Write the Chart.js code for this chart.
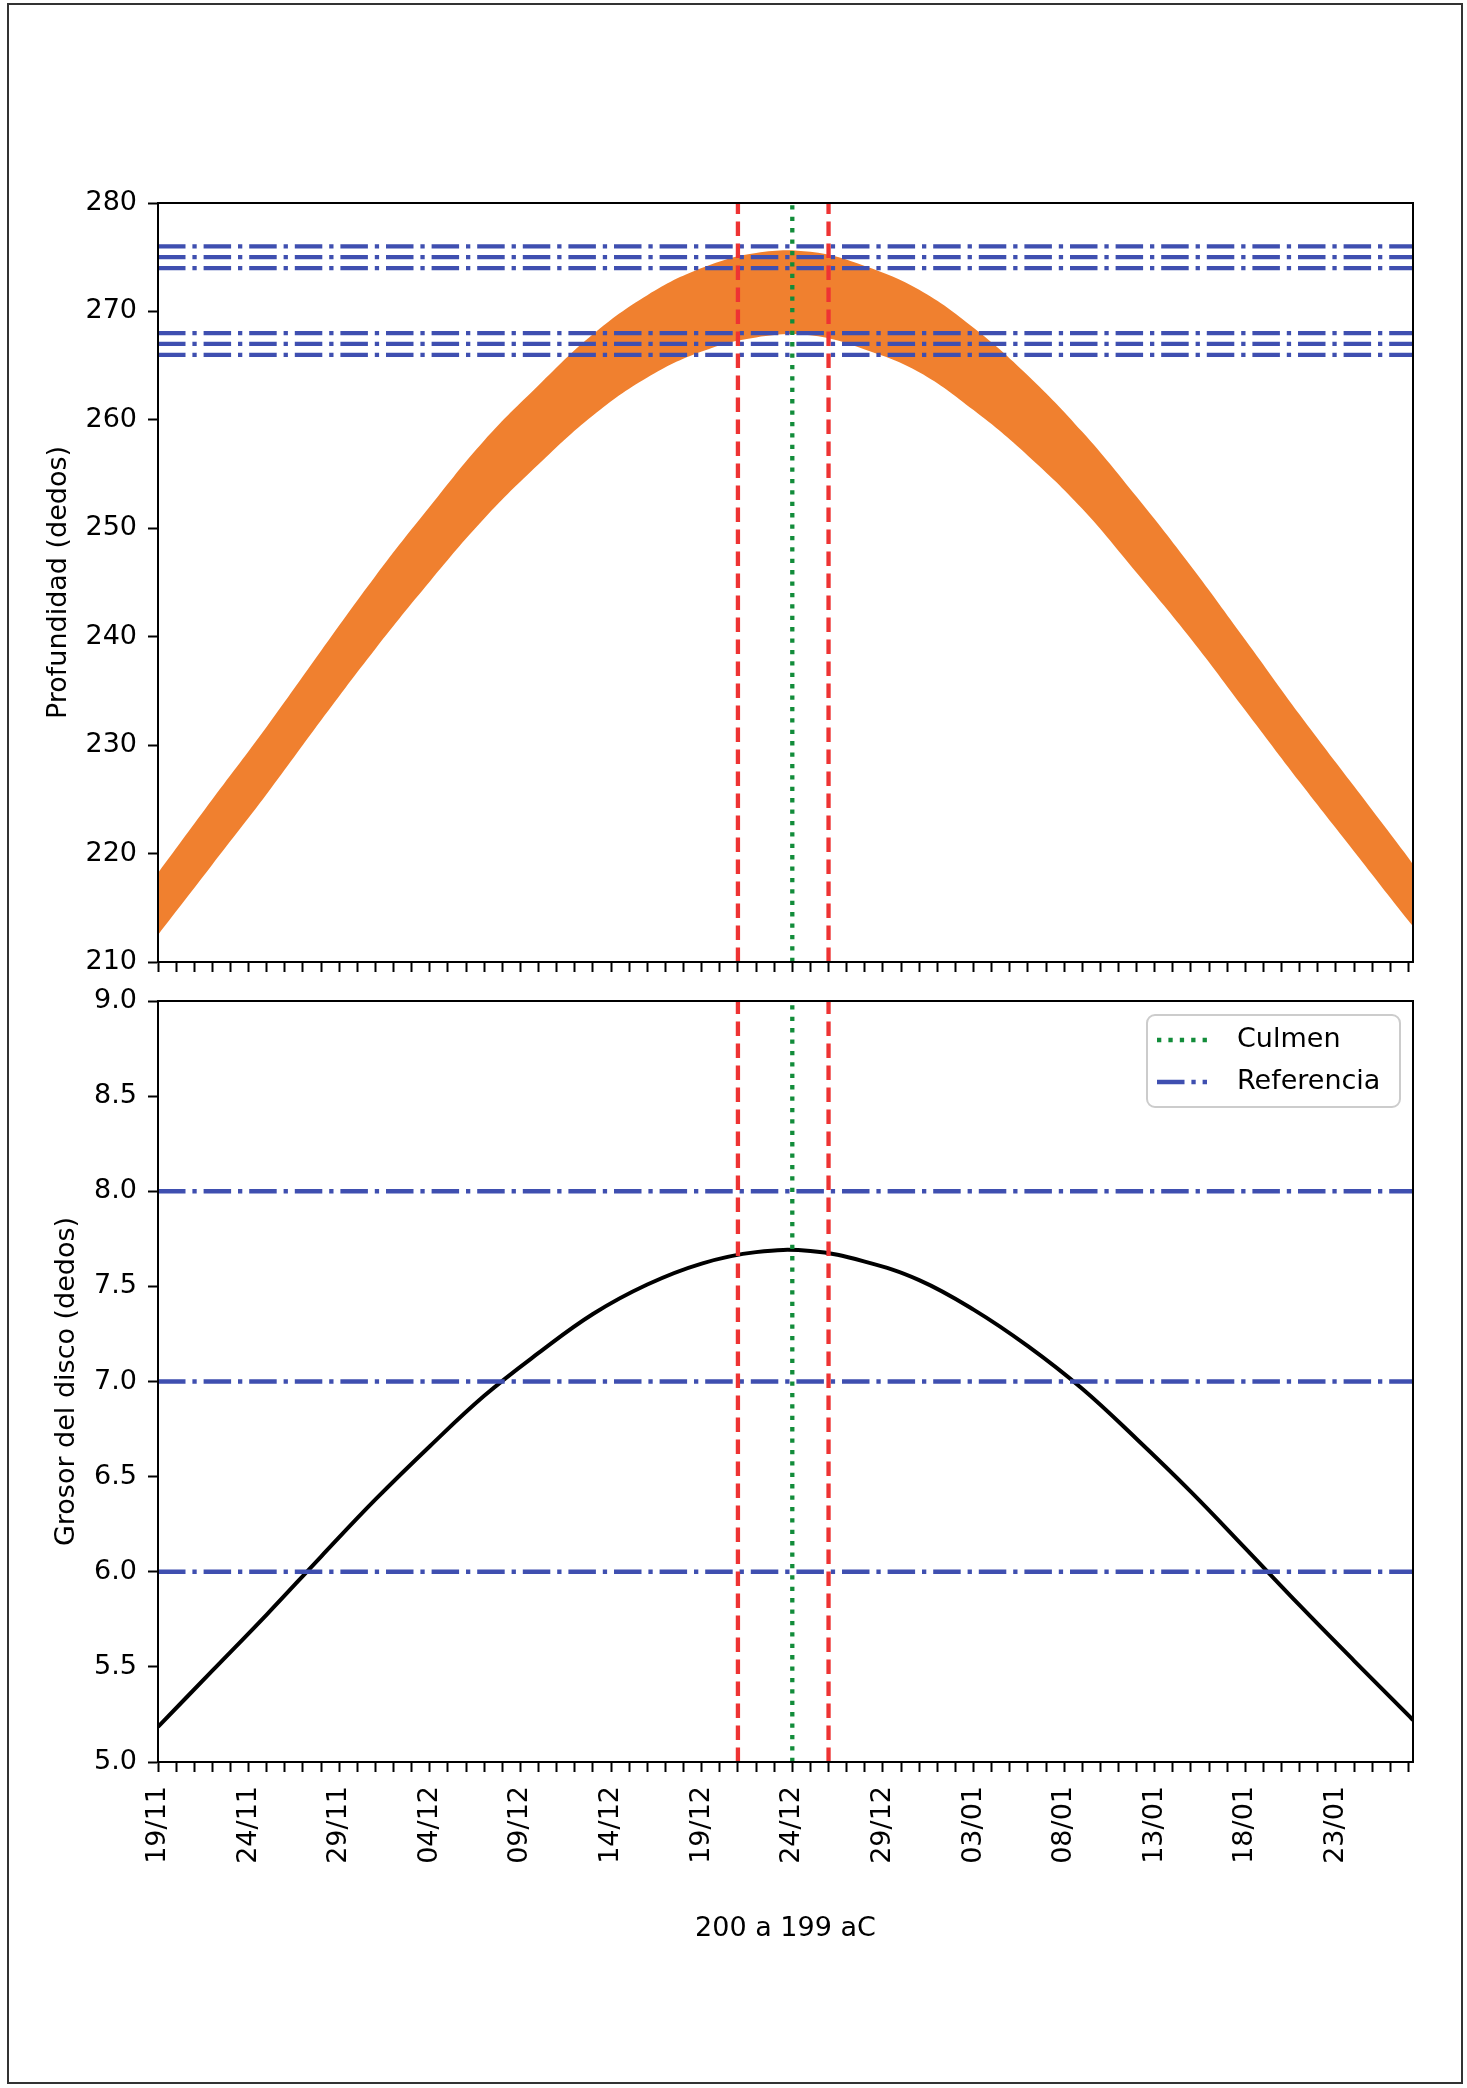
<!DOCTYPE html>
<html>
<head>
<meta charset="utf-8">
<script src="https://cdn.jsdelivr.net/npm/chart.js@4.4.1/dist/chart.umd.min.js"></script>
<style>
  html, body { margin: 0; padding: 0; background: #fff; }
  body { width: 1467px; height: 2088px; position: relative; overflow: hidden; }
  #frame { position: absolute; left: 7px; top: 3px; width: 1456px; height: 2081px; border: 2px solid #333; box-sizing: border-box; }
  canvas { position: absolute; left: 0; }
  #top { top: 0; }
  #bottom { top: 978px; }
</style>
</head>
<body>
<div id="frame"></div>
<canvas id="top" width="1467" height="978"></canvas>
<canvas id="bottom" width="1467" height="1110"></canvas>
<script>
// days counted from 19/11
const days = [0, 3, 6, 9, 12, 15, 18, 21, 24, 27, 30, 33, 36, 39, 42, 45, 48, 51, 54, 57, 60, 63, 66, 69, 69.25];
const grosor = [5.185, 5.48, 5.775, 6.08, 6.38, 6.66, 6.925, 7.15, 7.355, 7.51, 7.62, 7.68, 7.686, 7.63, 7.533, 7.378, 7.186, 6.962, 6.698, 6.42, 6.123, 5.823, 5.532, 5.245, 5.22];
const profMax = [218.2, 225.0, 231.7, 238.7, 245.6, 252.0, 258.1, 263.2, 267.9, 271.5, 274.0, 275.4, 275.5, 274.2, 272.0, 268.5, 264.1, 258.9, 252.9, 246.5, 239.7, 232.8, 226.2, 219.6, 219.0];
const profMin = [212.5, 219.0, 225.5, 232.3, 238.9, 245.1, 250.9, 255.9, 260.4, 263.9, 266.3, 267.6, 267.8, 266.5, 264.4, 260.9, 256.7, 251.8, 245.9, 239.8, 233.2, 226.6, 220.2, 213.8, 213.3];
const dateLabels = ["19/11", "24/11", "29/11", "04/12", "09/12", "14/12", "19/12", "24/12", "29/12", "03/01", "08/01", "13/01", "18/01", "23/01"];
const lastDay = 69.25;
const culmen = 35;
const limites = [32, 37];
const refProfundidad = [266, 267, 268, 274, 275, 276];
const refGrosor = [6, 7, 8];

const ORANGE = "#f0802f";
const BLUE = "#3f4fb0";
const RED = "#ee3333";
const GREEN = "#128c3a";
const DASHDOT = [27.5, 6.9, 4.3, 6.9];
const DASHED = [14.5, 7.5];
const DOTTED = [4.3, 7.1];

Chart.defaults.font.family = "'DejaVu Sans', sans-serif";
Chart.defaults.font.size = 27;
Chart.defaults.color = "#000";

const hline = (y) => ({
  data: [{ x: 0, y }, { x: lastDay, y }],
  borderColor: BLUE,
  borderWidth: 4.3,
  borderDash: DASHDOT,
  pointRadius: 0,
  tension: 0,
  order: 2,
});

const vline = (x, min, max, color, dash, order) => ({
  data: [{ x, y: min }, { x, y: max }],
  borderColor: color,
  borderWidth: 4.3,
  borderDash: dash,
  pointRadius: 0,
  tension: 0,
  order,
});

const xScale = (showLabels, height, title) => ({
  type: "linear",
  min: 0,
  max: lastDay,
  border: { display: true, color: "#000", width: 2 },
  grid: { drawOnChartArea: false, drawTicks: true, tickLength: 10, tickWidth: 2, tickColor: "#000" },
  ticks: {
    stepSize: 1,
    includeBounds: false,
    autoSkip: false,
    minRotation: 90,
    maxRotation: 90,
    padding: 14,
    callback: (v) => (showLabels && v % 5 === 0 ? dateLabels[v / 5] : ""),
  },
  title: title
    ? { display: true, text: title, padding: { top: 0, bottom: 143 } }
    : { display: false },
  afterFit: (scale) => {
    scale.height = height;
    scale.paddingLeft = 0;
    scale.paddingRight = 0;
  },
});

const yScale = (min, max, step, title, titlePad, fmt) => ({
  min,
  max,
  border: { display: true, color: "#000", width: 2 },
  grid: { drawOnChartArea: false, drawTicks: true, tickLength: 10, tickWidth: 2, tickColor: "#000" },
  ticks: { stepSize: step, padding: 11, callback: fmt },
  title: { display: true, text: title, padding: { top: titlePad, bottom: 0 } },
  afterFit: (scale) => {
    scale.width = 158;
    scale.paddingTop = 0;
    scale.paddingBottom = 0;
  },
});

// the box round the axes, like matplotlib spines
const spines = {
  id: "spines",
  afterDatasetsDraw(chart) {
    const { ctx, chartArea: a } = chart;
    ctx.save();
    ctx.strokeStyle = "#000";
    ctx.lineWidth = 2;
    ctx.strokeRect(a.left, a.top, a.right - a.left, a.bottom - a.top);
    ctx.restore();
  },
};

const legendItems = [
  { text: "Culmen", color: GREEN, dash: DOTTED },
  { text: "Referencia", color: BLUE, dash: DASHDOT },
];

const legendBox = {
  id: "legendBox",
  afterDraw(chart) {
    const { ctx, chartArea: a } = chart;
    const x = a.right - 266;
    const y = a.top + 14;
    ctx.save();
    ctx.fillStyle = "rgba(255,255,255,0.8)";
    ctx.strokeStyle = "#cccccc";
    ctx.lineWidth = 2;
    ctx.beginPath();
    ctx.roundRect(x, y, 253, 92, 8);
    ctx.fill();
    ctx.stroke();
    ctx.font = "27px 'DejaVu Sans'";
    ctx.textBaseline = "middle";
    ctx.fillStyle = "#000";
    legendItems.forEach((item, i) => {
      const ly = y + 25 + i * 42;
      ctx.beginPath();
      ctx.setLineDash(item.dash);
      ctx.strokeStyle = item.color;
      ctx.lineWidth = 4.3;
      ctx.moveTo(x + 10, ly);
      ctx.lineTo(x + 60, ly);
      ctx.stroke();
      ctx.setLineDash([]);
      ctx.fillText(item.text, x + 90, ly);
    });
    ctx.restore();
  },
};

const common = {
  responsive: false,
  animation: false,
  events: [],
  plugins: { legend: { display: false }, tooltip: { enabled: false } },
  elements: { point: { radius: 0 } },
};

// top: depth band
new Chart(document.getElementById("top"), {
  type: "line",
  data: {
    datasets: [
      {
        data: days.map((d, i) => ({ x: d, y: profMin[i] })),
        borderWidth: 0,
        borderColor: "rgba(0,0,0,0)",
        tension: 0.4,
        fill: false,
        order: 4,
      },
      {
        data: days.map((d, i) => ({ x: d, y: profMax[i] })),
        borderWidth: 0,
        borderColor: "rgba(0,0,0,0)",
        backgroundColor: ORANGE,
        tension: 0.4,
        fill: 0,
        order: 3,
      },
      ...refProfundidad.map(hline),
      vline(limites[0], 210, 280, RED, DASHED, 1),
      vline(limites[1], 210, 280, RED, DASHED, 1),
      vline(culmen, 210, 280, GREEN, DOTTED, 0),
    ],
  },
  options: {
    ...common,
    layout: { padding: { top: 203, right: 54, left: 0, bottom: 0 } },
    scales: {
      x: xScale(false, 16),
      y: yScale(210, 280, 10, "Profundidad (dedos)", 43),
    },
  },
  plugins: [spines],
});

// bottom: disc thickness
new Chart(document.getElementById("bottom"), {
  type: "line",
  data: {
    datasets: [
      {
        data: days.map((d, i) => ({ x: d, y: grosor[i] })),
        borderColor: "#000",
        borderWidth: 4,
        tension: 0.4,
        fill: false,
        order: 3,
      },
      ...refGrosor.map(hline),
      vline(limites[0], 5, 9, RED, DASHED, 1),
      vline(limites[1], 5, 9, RED, DASHED, 1),
      vline(culmen, 5, 9, GREEN, DOTTED, 0),
    ],
  },
  options: {
    ...common,
    layout: { padding: { top: 23, right: 54, left: 0, bottom: 0 } },
    scales: {
      x: xScale(true, 326, "200 a 199 aC"),
      y: yScale(5, 9, 0.5, "Grosor del disco (dedos)", 51, (v) => v.toFixed(1)),
    },
  },
  plugins: [spines, legendBox],
});
</script>
</body>
</html>
